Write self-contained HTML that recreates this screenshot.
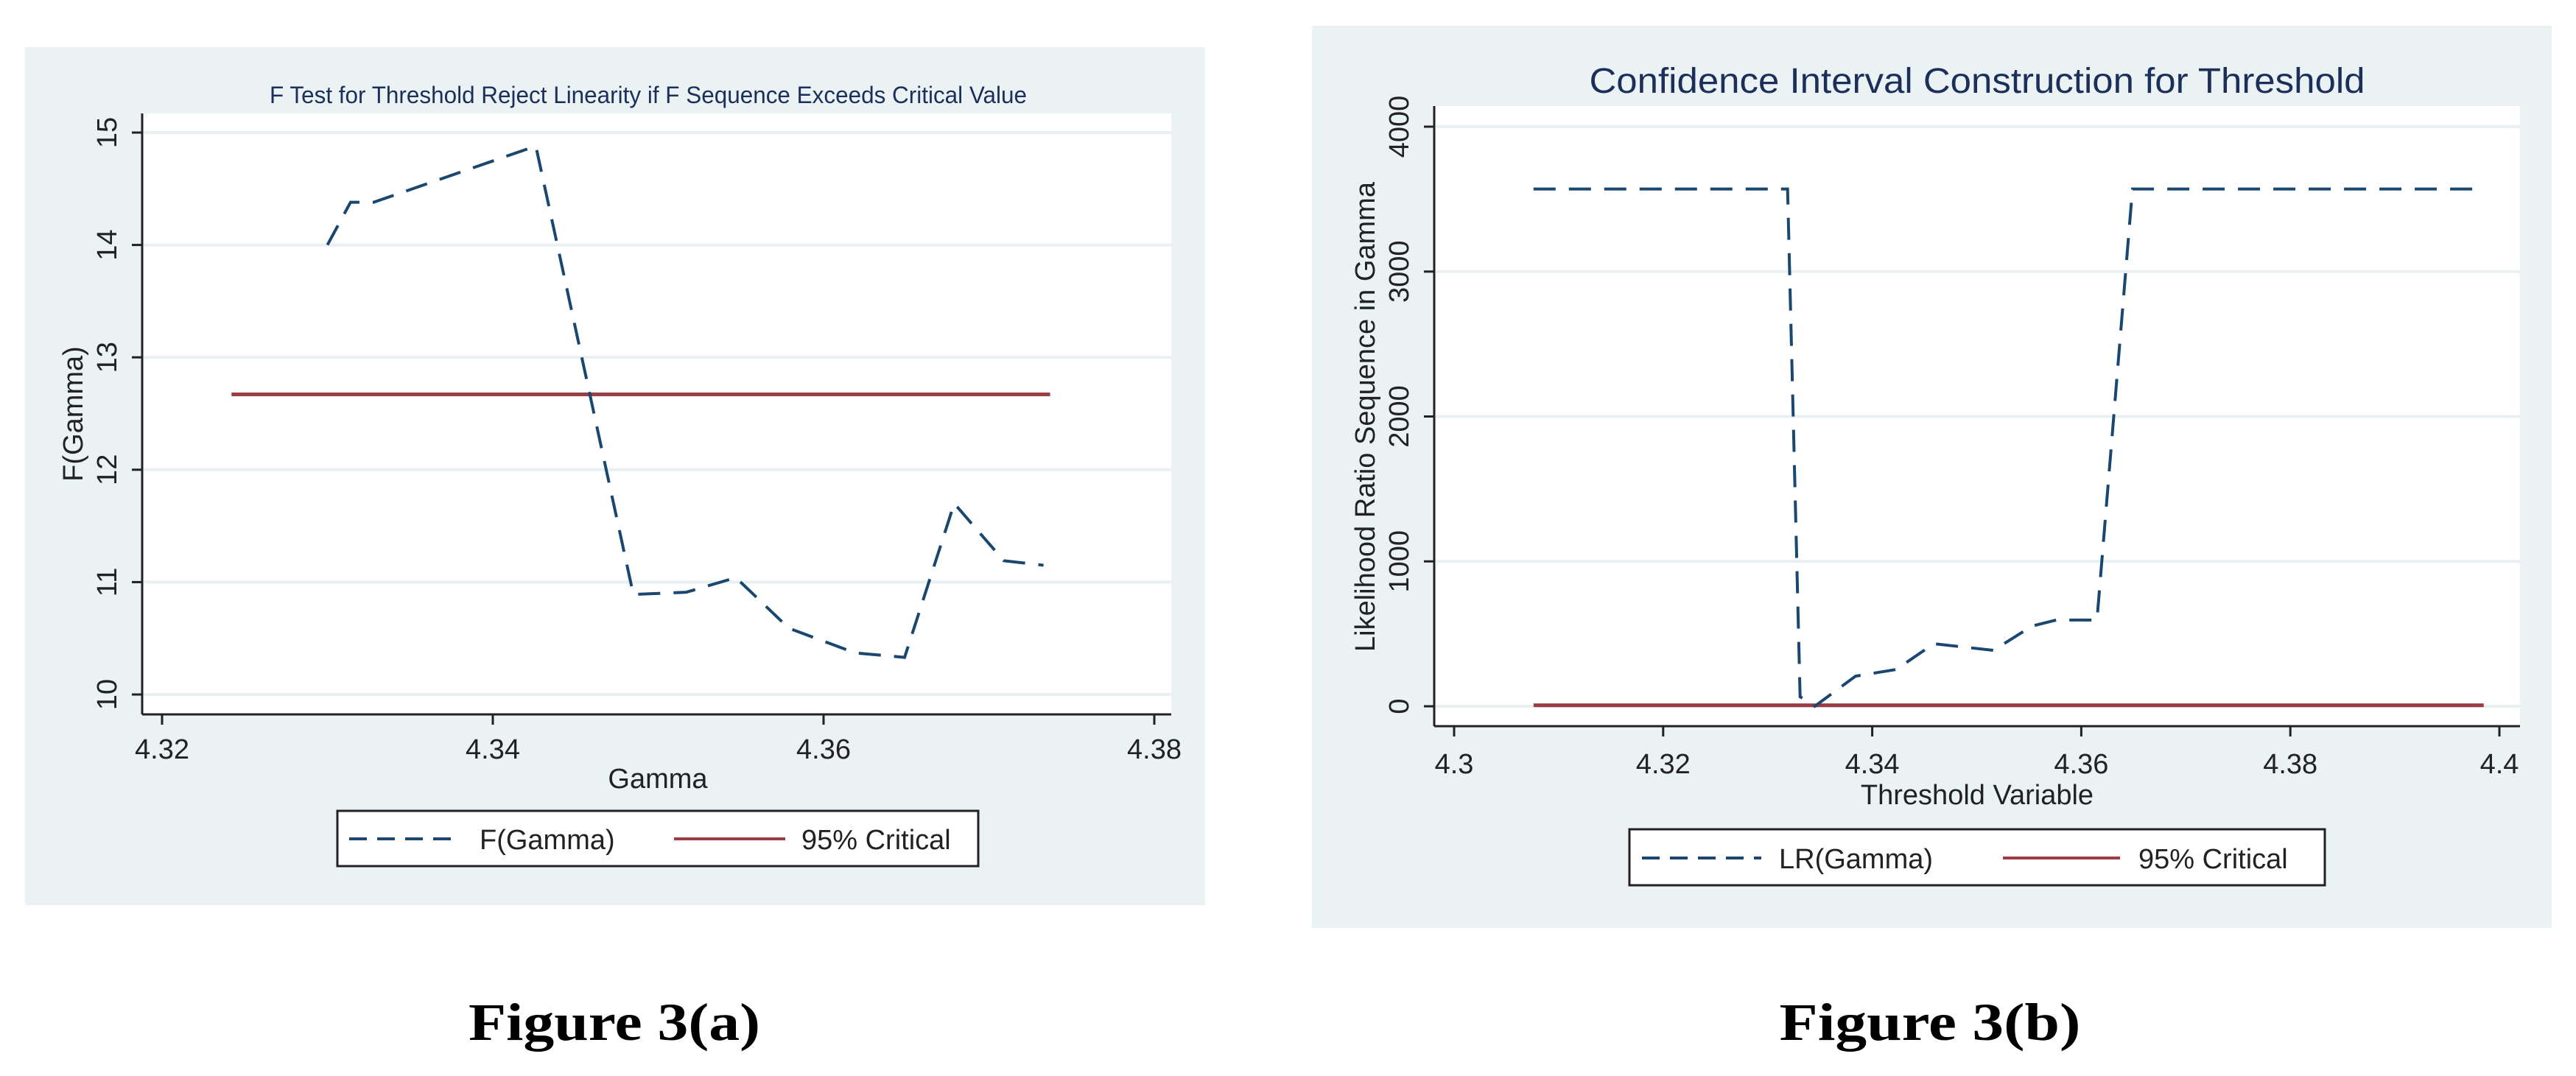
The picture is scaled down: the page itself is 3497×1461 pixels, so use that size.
<!DOCTYPE html>
<html><head><meta charset="utf-8"><style>
html,body{margin:0;padding:0;background:#fff;}
svg{display:block;}
text{font-family:"Liberation Sans",sans-serif;}
</style></head><body>
<svg id="root" width="3497" height="1461" viewBox="0 0 3497 1461" xmlns="http://www.w3.org/2000/svg">
<g id="chartA"></g>
<g id="chartB"></g>
<text x="834" y="1412" text-anchor="middle" font-family="Liberation Serif, serif" font-weight="bold" font-size="72" textLength="396" lengthAdjust="spacingAndGlyphs" style="font-family:'Liberation Serif',serif">Figure 3(a)</text>
<text x="2620" y="1412" text-anchor="middle" font-weight="bold" font-size="72" textLength="409" lengthAdjust="spacingAndGlyphs" style="font-family:'Liberation Serif',serif">Figure 3(b)</text>
</svg>
<script>
// ---- Chart A data ----
const gammaA = [4.3300,4.3314,4.3328,4.3426,4.3485,4.3517,4.3547,4.3579,4.3619,4.3649,4.3679,4.3709,4.3733];
const fValues = [14.0,14.38,14.38,14.88,10.89,10.91,11.04,10.59,10.37,10.33,11.70,11.19,11.15];
const critA = [12.67];
const critARange = [4.3242,4.3737];
const yTicksA = [10,11,12,13,14,15];
const xTicksA = [4.32,4.34,4.36,4.38];
const xTickLabelsA = ["4.32","4.34","4.36","4.38"];
// ---- Chart B data ----
const gammaB = [4.3076,4.3319,4.3331,4.3345,4.3384,4.3423,4.3459,4.3516,4.3553,4.3576,4.3615,4.3649,4.3985];
const lrValues = [3570,3570,66,0,208,254,432,386,554,595,595,3570,3570];
const critB = [7];
const critBRange = [4.3076,4.3985];
const yTicksB = [0,1000,2000,3000,4000];
const xTicksB = [4.30,4.32,4.34,4.36,4.38,4.40];
const xTickLabelsB = ["4.3","4.32","4.34","4.36","4.38","4.4"];

const NS="http://www.w3.org/2000/svg";
function mk(parent,tag,attrs,txt){const e=document.createElementNS(NS,tag);for(const k in attrs)e.setAttribute(k,attrs[k]);if(txt!==undefined)e.textContent=txt;parent.appendChild(e);return e;}
const BLUE="#1a476f",RED="#9c3c44",GRID="#e8f0f2",BG="#eaf2f3";

function drawChart(g,cfg){
  const sx=v=>cfg.x0px+(v-cfg.x0)/(cfg.x1-cfg.x0)*(cfg.x1px-cfg.x0px);
  const sy=v=>cfg.y0px+(v-cfg.y0)/(cfg.y1-cfg.y0)*(cfg.y1px-cfg.y0px);
  let e=mk(g,'rect',{x:cfg.bg[0],y:cfg.bg[1],width:cfg.bg[2]-cfg.bg[0],height:cfg.bg[3]-cfg.bg[1],fill:BG});
  
  
  e=mk(g,'rect',{x:cfg.plot[0],y:cfg.plot[1],width:cfg.plot[2]-cfg.plot[0],height:cfg.plot[3]-cfg.plot[1],fill:'#fff'});
  
  
  e=mk(g,'text',{x:cfg.titlePos[0],y:cfg.titlePos[1],'text-anchor':'middle','font-size':cfg.titleSize,fill:'#1c2f5a',textLength:cfg.titleLen,lengthAdjust:'spacingAndGlyphs'},cfg.title);
  
  
  cfg.yTicks.forEach(t=>{
    const y=sy(t);
    let l=mk(g,'line',{x1:cfg.plot[0]+2,x2:cfg.plot[2],y1:y,y2:y,stroke:GRID,'stroke-width':4});
    
    
    l=mk(g,'line',{x1:cfg.plot[0]-14,x2:cfg.plot[0],y1:y,y2:y,stroke:'#222','stroke-width':3});
    
    
    const tx=mk(g,'text',{x:0,y:0,transform:`translate(${cfg.yLabelX},${y}) rotate(-90)`,'text-anchor':'middle','font-size':cfg.tickSize,fill:'#222'},String(t));
    
    
  });
  cfg.xTicks.forEach((t,i)=>{
    const x=sx(t);
    let l=mk(g,'line',{x1:x,x2:x,y1:cfg.plot[3],y2:cfg.plot[3]+14,stroke:'#222','stroke-width':3});
    
    
    const tx=mk(g,'text',{x:x,y:cfg.xLabelY,'text-anchor':'middle','font-size':cfg.tickSize,fill:'#222'},cfg.xLabels[i]);
    
    
  });
  let ax=mk(g,'line',{x1:cfg.plot[0],x2:cfg.plot[0],y1:cfg.plot[1],y2:cfg.plot[3],stroke:'#222','stroke-width':3});
  
  
  ax=mk(g,'line',{x1:cfg.plot[0],x2:cfg.plot[2],y1:cfg.plot[3],y2:cfg.plot[3],stroke:'#222','stroke-width':3});
  
  
  let t=mk(g,'text',{x:cfg.xTitlePos[0],y:cfg.xTitlePos[1],'text-anchor':'middle','font-size':cfg.tickSize,fill:'#222'},cfg.xTitle);
  
  
  t=mk(g,'text',{x:0,y:0,transform:`translate(${cfg.yTitlePos[0]},${cfg.yTitlePos[1]}) rotate(-90)`,'text-anchor':'middle','font-size':cfg.tickSize,fill:'#222'},cfg.yTitle);
  
  
  // critical line
  const cy=sy(cfg.crit[0]);
  let c=mk(g,'line',{x1:sx(cfg.critRange[0]),x2:sx(cfg.critRange[1]),y1:cy,y2:cy,stroke:RED,'stroke-width':5});
  
  
  // series
  const pts=cfg.xs.map((v,i)=>sx(v).toFixed(1)+','+sy(cfg.ys[i]).toFixed(1)).join(' ');
  const p=mk(g,'polyline',{points:pts,fill:'none',stroke:BLUE,'stroke-width':4,'stroke-dasharray':'30 18'});
  
  
  // legend
  const L=cfg.legend;
  const lg=mk(g,'g',{});
  
  
  mk(lg,'rect',{x:L.box[0],y:L.box[1],width:L.box[2]-L.box[0],height:L.box[3]-L.box[1],fill:'#fff',stroke:'#222','stroke-width':3});
  let s=mk(lg,'line',{x1:L.d[0],x2:L.d[1],y1:L.cy,y2:L.cy,stroke:BLUE,'stroke-width':4,'stroke-dasharray':'24 14'});
  
  
  s=mk(lg,'text',{x:L.t1,y:L.cy+14,'font-size':cfg.tickSize,fill:'#222'},L.l1);
  
  
  s=mk(lg,'line',{x1:L.r[0],x2:L.r[1],y1:L.cy,y2:L.cy,stroke:RED,'stroke-width':4});
  
  
  s=mk(lg,'text',{x:L.t2,y:L.cy+14,'font-size':cfg.tickSize,fill:'#222'},L.l2);
  
  
}

drawChart(document.getElementById('chartA'),{
  bg:[34,64,1636,1229],plot:[193,154,1590,970],
  x0:4.32,x1:4.38,x0px:220,x1px:1567,y0:10,y1:15,y0px:943,y1px:180,
  title:"F Test for Threshold Reject Linearity if F Sequence Exceeds Critical Value",titlePos:[880,140],titleSize:32,titleLen:1028,
  yTicks:yTicksA,xTicks:xTicksA,xLabels:xTickLabelsA,tickSize:38,yLabelX:158,xLabelY:1030,
  xTitle:"Gamma",xTitlePos:[893,1070],yTitle:"F(Gamma)",yTitlePos:[112,562],
  xs:gammaA,ys:fValues,crit:critA,critRange:critARange,
  legend:{box:[458,1101,1328,1176],cy:1139,d:[474,625],t1:651,l1:"F(Gamma)",r:[915,1066],t2:1088,l2:"95% Critical"}
});
drawChart(document.getElementById('chartB'),{
  bg:[1781,35,3464,1260],plot:[1947,144,3421,986],
  x0:4.30,x1:4.40,x0px:1974,x1px:3393,y0:0,y1:4000,y0px:959,y1px:172,
  title:"Confidence Interval Construction for Threshold",titlePos:[2684,126],titleSize:48,titleLen:1053,
  yTicks:yTicksB,xTicks:xTicksB,xLabels:xTickLabelsB,tickSize:38,yLabelX:1912,xLabelY:1050,
  xTitle:"Threshold Variable",xTitlePos:[2684,1092],yTitle:"Likelihood Ratio Sequence in Gamma",yTitlePos:[1866,566],
  xs:gammaB,ys:lrValues,crit:critB,critRange:critBRange,
  legend:{box:[2212,1126,3156,1202],cy:1165,d:[2229,2391],t1:2415,l1:"LR(Gamma)",r:[2719,2878],t2:2903,l2:"95% Critical"}
});
</script>
</body></html>
